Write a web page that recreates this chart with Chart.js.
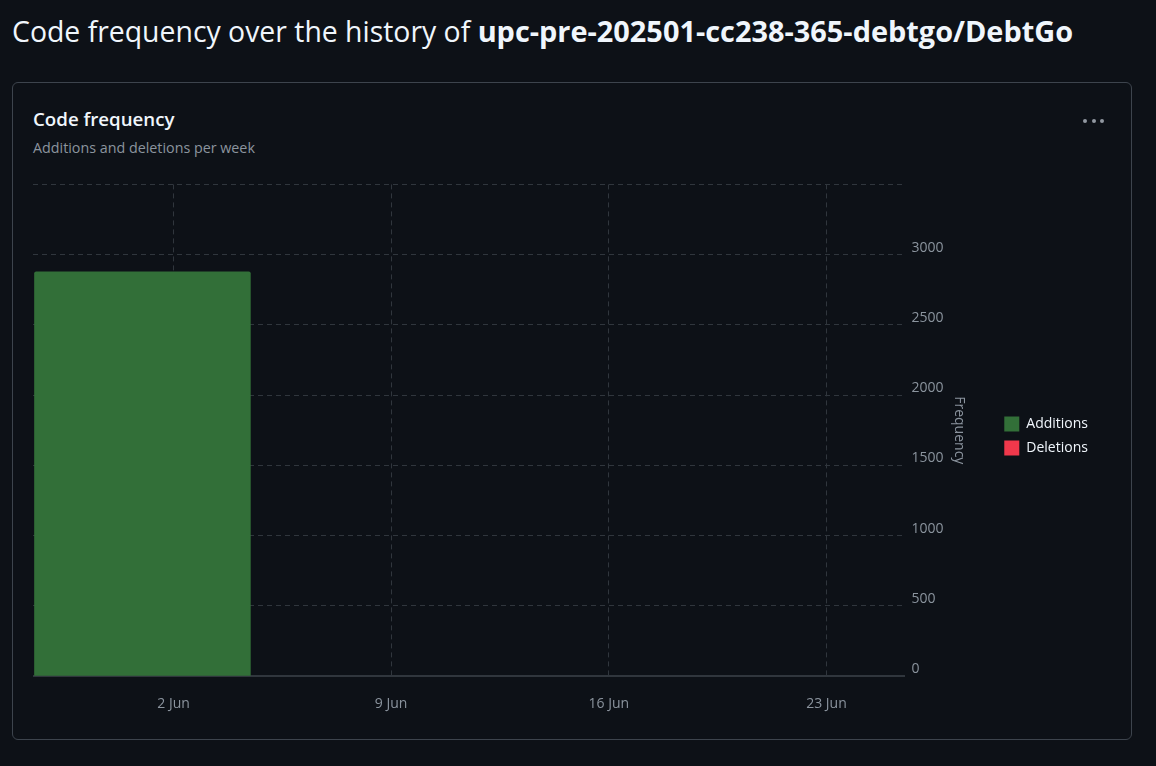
<!DOCTYPE html>
<html lang="en">
<head>
    <meta charset="UTF-8">
    <title>Code frequency</title>
    <script src="https://cdn.jsdelivr.net/npm/chart.js"></script>
    <style>
        body {
            margin: 0;
            background: #0d1117;
            color: #f0f6fc;
            font-family: 'Open Sans', sans-serif;
            overflow: hidden;
        }
        h1 {
            position: absolute;
            left: 12px;
            top: 10px;
            margin: 0;
            font-size: 28.4px;
            line-height: 42px;
            font-weight: 400;
            white-space: nowrap;
        }
        h1 b { font-weight: 700; font-size: 28.9px; }
        .card {
            position: absolute;
            left: 12px;
            top: 82px;
            width: 1118px;
            height: 656px;
            border: 1px solid #3d444d;
            border-radius: 6px;
        }
        h2 {
            position: absolute;
            left: 20px;
            top: 23px;
            margin: 0;
            font-size: 18.7px;
            line-height: 26px;
            font-weight: 600;
        }
        p {
            position: absolute;
            left: 20px;
            top: 55px;
            margin: 0;
            font-size: 14.3px;
            line-height: 20px;
            color: #8b949e;
        }
        .dots {
            position: absolute;
            left: 1070px;
            top: 36px;
            display: flex;
            gap: 4.5px;
        }
        .dots i {
            width: 4px;
            height: 4px;
            border-radius: 50%;
            background: #9198a1;
        }
        .chart-box {
            position: absolute;
            left: 20px;
            top: 86px;
            width: 1090px;
            height: 562px;
        }
    </style>
</head>
<body>
    <h1>Code frequency over the history of <b>upc-pre-202501-cc238-365-debtgo/DebtGo</b></h1>
    <div class="card">
        <h2>Code frequency</h2>
        <p>Additions and deletions per week</p>
        <div class="dots"><i></i><i></i><i></i></div>
        <div class="chart-box"><canvas id="freqChart"></canvas></div>
    </div>

    <script>
        // days of June, one bar per week
        const weekDays = [1, 8, 15, 22];
        const additions = [2880, 0, 0, 0];
        const deletions = [0, 0, 0, 0];
        const xTickDays = [2, 9, 16, 23];
        const xTickLabels = ['2 Jun', '9 Jun', '16 Jun', '23 Jun'];
        const yTickLabels = [0, 500, 1000, 1500, 2000, 2500, 3000];

        const gridColor = '#30363d';
        const mutedColor = '#8b949e';
        const fontFamily = "'Open Sans', sans-serif";

        new Chart(document.getElementById('freqChart'), {
            type: 'bar',
            data: {
                labels: weekDays,
                datasets: [
                    {
                        label: 'Additions',
                        data: weekDays.map((d, i) => ({ x: d, y: additions[i] })),
                        backgroundColor: '#326f38',
                        borderRadius: 2,
                        borderSkipped: 'bottom'
                    },
                    {
                        label: 'Deletions',
                        data: weekDays.map((d, i) => ({ x: d, y: deletions[i] })),
                        backgroundColor: '#f0384b'
                    }
                ]
            },
            options: {
                responsive: true,
                maintainAspectRatio: false,
                animation: false,
                categoryPercentage: 1,
                barPercentage: 0.995,
                layout: { padding: { top: 5, right: 25, bottom: 0, left: 0 } },
                scales: {
                    x: {
                        type: 'linear',
                        stacked: true,
                        offset: false,
                        min: -2.52,
                        max: 25.51,
                        afterBuildTicks: axis => {
                            axis.ticks = xTickDays.map(v => ({ value: v }));
                        },
                        ticks: {
                            color: mutedColor,
                            padding: 19,
                            maxRotation: 0,
                            font: { family: fontFamily, size: 14 },
                            callback: value => xTickLabels[xTickDays.indexOf(value)]
                        },
                        grid: { color: gridColor, drawTicks: false, offset: false },
                        border: { color: gridColor, width: 2, dash: [5, 4] }
                    },
                    y: {
                        position: 'right',
                        stacked: true,
                        min: 0,
                        max: 3500,
                        afterBuildTicks: axis => {
                            axis.ticks = yTickLabels.concat([3500]).map(v => ({ value: v }));
                        },
                        ticks: {
                            color: mutedColor,
                            padding: 7,
                            labelOffset: -7,
                            font: { family: fontFamily, size: 14 },
                            callback: value => yTickLabels.includes(value) ? String(value) : ''
                        },
                        title: {
                            display: true,
                            text: 'Frequency',
                            color: mutedColor,
                            font: { family: fontFamily, size: 14 },
                            padding: { top: 28, bottom: 0 }
                        },
                        grid: { color: gridColor, drawTicks: false },
                        border: { display: false, dash: [5, 4] }
                    }
                },
                plugins: {
                    tooltip: { enabled: false },
                    legend: {
                        position: 'right',
                        fullSize: false,
                        // empty title only nudges the entries down a little
                        title: { display: true, text: ' ', font: { size: 1 }, padding: 5 },
                        labels: {
                            color: '#f0f6fc',
                            boxWidth: 15,
                            boxHeight: 15,
                            padding: 9,
                            font: { family: fontFamily, size: 14 }
                        }
                    }
                }
            }
        });
    </script>
</body>
</html>
